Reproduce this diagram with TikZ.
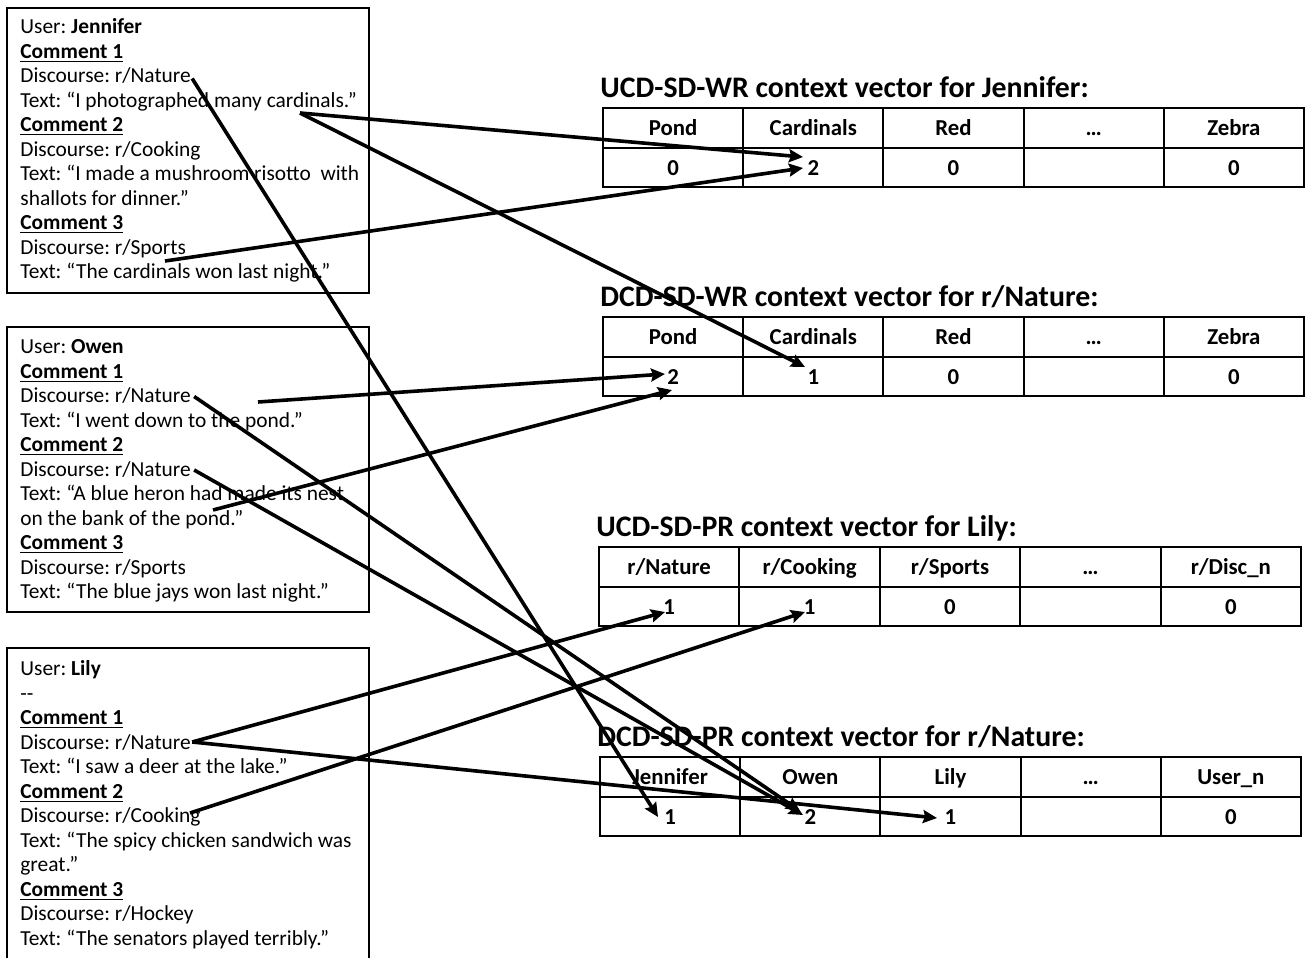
\documentclass[tikz,border=0pt]{standalone}
\usepackage{fontspec}
\setmainfont{Carlito}
\usetikzlibrary{arrows.meta,calc}
\frenchspacing

\begin{document}
\begin{tikzpicture}[x=0.5pt,y=-0.5pt,
  txt/.style={anchor=base west,inner sep=0pt,font=\fontsize{10.7}{13}\selectfont},
  ttl/.style={anchor=base west,inner sep=0pt,font=\fontsize{14.9}{17}\selectfont\bfseries},
  cell/.style={anchor=base,inner sep=0pt,font=\fontsize{11.4}{13}\selectfont\bfseries},
  frame/.style={draw,line width=1pt},
  grid/.style={draw,line width=1pt},
  link/.style={line width=1.8pt,-{Stealth[length=7pt,width=6.5pt,inset=1pt]}}]
\clip (0,0) rectangle (1306,958);
\fill[white] (0,0) rectangle (1306,958);

% ---------- comment boxes ----------
\newcommand{\cm}[1]{\underline{\textbf{#1}}}

\draw[frame] (7,8) rectangle (369,293);
\foreach \t [count=\i] in {
  {User: \textbf{Jennifer}},
  {\cm{Comment 1}},
  {Discourse: r/Nature},
  {Text: “I photographed many cardinals.”},
  {\cm{Comment 2}},
  {Discourse: r/Cooking},
  {Text: “I made a mushroom risotto\ \ with},
  {shallots for dinner.”},
  {\cm{Comment 3}},
  {Discourse: r/Sports},
  {Text: “The cardinals won last night.”}}
  \node[txt] (jen\i) at (20,{33.5+24.5*(\i-1)}) {\t};

\draw[frame] (7,327) rectangle (369,612);
\foreach \t [count=\i] in {
  {User: \textbf{Owen}},
  {\cm{Comment 1}},
  {Discourse: r/Nature},
  {Text: “I went down to the pond.”},
  {\cm{Comment 2}},
  {Discourse: r/Nature},
  {Text: “A blue heron had made its nest},
  {on the bank of the pond.”},
  {\cm{Comment 3}},
  {Discourse: r/Sports},
  {Text: “The blue jays won last night.”}}
  \node[txt] (owen\i) at (20,{353.5+24.5*(\i-1)}) {\t};

\draw[frame] (7,648) rectangle (369,990);
\foreach \t [count=\i] in {
  {User: \textbf{Lily}},
  {-{}-},
  {\cm{Comment 1}},
  {Discourse: r/Nature},
  {Text: “I saw a deer at the lake.”},
  {\cm{Comment 2}},
  {Discourse: r/Cooking},
  {Text: “The spicy chicken sandwich was},
  {great.”},
  {\cm{Comment 3}},
  {Discourse: r/Hockey},
  {Text: “The senators played terribly.”}}
  \node[txt] (lily\i) at (20,{675.5+24.5*(\i-1)}) {\t};

% ---------- context vectors ----------
% #1 name, #2 left x, #3 top y, #4 column width, #5 title, #6 headers, #7 values
\newcommand{\ctxvec}[7]{%
  \node[ttl] (#1title) at (#2-3,#3-11) {#5};
  \draw[grid] (#2,#3) rectangle ({#2+5*#4},#3+79);
  \draw[grid] (#2,#3+40) -- ({#2+5*#4},#3+40);
  \foreach \k in {1,...,4}
    \draw[grid] ({#2+\k*#4},#3) -- ({#2+\k*#4},#3+79);
  \foreach \h [count=\k] in {#6}
    \node[cell] (#1h\k) at ({#2+(\k-0.5)*#4},#3+27) {\h};
  \foreach \v [count=\k] in {#7}
    \node[cell] (#1v\k) at ({#2+(\k-0.5)*#4},#3+67) {\v};
}

\ctxvec{uwr}{603}{108}{140.2}{UCD-SD-WR context vector for Jennifer:}
  {Pond,Cardinals,Red,…,Zebra}{0,2,0,{},0}
\ctxvec{dwr}{603}{317}{140.2}{DCD-SD-WR context vector for r/Nature:}
  {Pond,Cardinals,Red,…,Zebra}{2,1,0,{},0}
\ctxvec{upr}{599}{547}{140.4}{UCD-SD-PR context vector for Lily:}
  {r/Nature,r/Cooking,r/Sports,…,r/Disc\_n}{1,1,0,{},0}
\ctxvec{dpr}{600}{757}{140.2}{DCD-SD-PR context vector for r/Nature:}
  {Jennifer,Owen,Lily,…,User\_n}{1,2,1,{},0}

% ---------- connector ends ----------
\coordinate (jNat)   at ($(jen3.base east)+(1,-4)$);
\coordinate (jCard)  at (300,113);
\coordinate (jSport) at (165,261);
\coordinate (oNatA)  at ($(owen3.base east)+(3,-6)$);
\coordinate (oPondA) at (258,402);
\coordinate (oNatB)  at ($(owen6.base east)+(3,-6)$);
\coordinate (oPondB) at (213,510);
\coordinate (lNat)   at ($(lily4.base east)+(1,-7)$);
\coordinate (lCook)  at (190,813);

\coordinate (uwrA) at (803,157);
\coordinate (uwrB) at (803,168);
\coordinate (dwrA) at (665,374);
\coordinate (dwrB) at (672,390);
\coordinate (dwrC) at (805,367);
\coordinate (uprA) at (665,612);
\coordinate (uprB) at (805,612);
\coordinate (dprA) at (658,817);
\coordinate (dprB) at (800,811);
\coordinate (dprC) at (803,815);
\coordinate (dprD) at (937,818);

% ---------- connectors ----------
\draw[link] (jCard)  -- (uwrA);
\draw[link] (jSport) -- (uwrB);
\draw[link] (jCard)  -- (dwrC);
\draw[link] (jNat)   -- (dprA);
\draw[link] (oPondA) -- (dwrA);
\draw[link] (oPondB) -- (dwrB);
\draw[link] (oNatA)  -- (dprB);
\draw[link] (oNatB)  -- (dprC);
\draw[link] (lNat)   -- (uprA);
\draw[link] (lNat)   -- (dprD);
\draw[link] (lCook)  -- (uprB);
\end{tikzpicture}
\end{document}
